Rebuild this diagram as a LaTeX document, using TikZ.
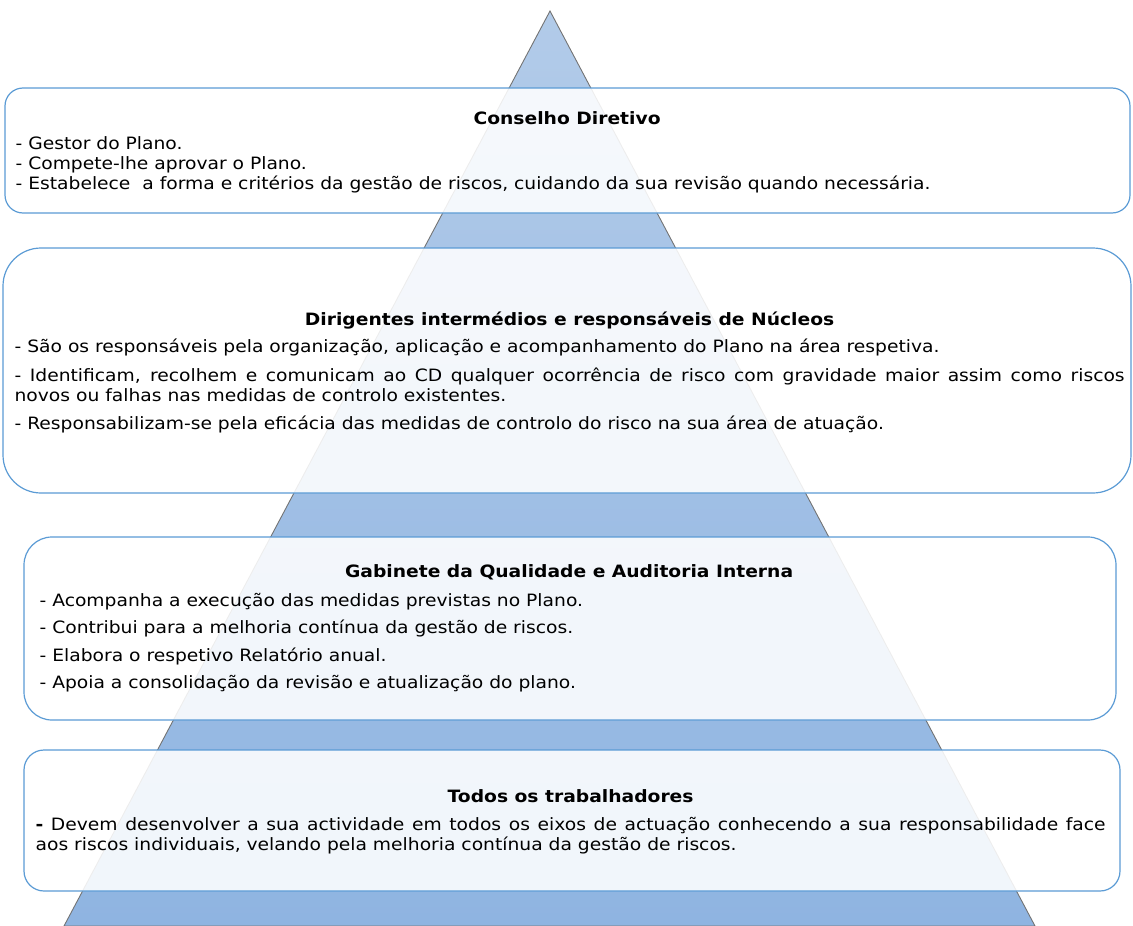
\documentclass[tikz,border=0pt]{standalone}
\usepackage{fontspec}
\setmainfont{DejaVu Sans}[FakeStretch=1.1]
\usepackage{tikz}
\usetikzlibrary{positioning}
\definecolor{lvlblue}{RGB}{91,155,213}
\definecolor{tritop}{RGB}{178,203,233}
\definecolor{tribot}{RGB}{143,180,225}
\setlength{\parindent}{0pt}

\begin{document}
\begin{tikzpicture}[
    x=1pt, y=-1pt,
    lvl/.style={rectangle, rounded corners=#1, draw=lvlblue, line width=1.2pt,
                fill=white, fill opacity=0.88, inner sep=0pt},
    lvl/.default=18pt,
    txt/.style={text width=#1, align=justify, inner sep=0pt,
                font=\fontsize{17}{20}\selectfont},
  ]
  \useasboundingbox (0,0) rectangle (1133,926);

  % piramide
  \shade[top color=tritop, bottom color=tribot, draw=black!55, line width=0.9pt]
    (550,11) -- (1035,926) -- (64,926) -- cycle;

  \node[lvl=18pt, minimum width=1125pt, minimum height=125pt] (cd) at (567.5,150.5) {};
  \node[txt=1103pt, below right=20.5pt and 11pt of cd.north west] (cdtxt)
    {\makebox[\linewidth]{\rule{0pt}{16.5pt}\textbf{Conselho Diretivo}}\\[4.5pt]
     - Gestor do Plano.\\
     - Compete-lhe aprovar o Plano.\\
     - Estabelece\ \ a forma e critérios da gestão de riscos, cuidando da sua revisão quando necessária.};

  \node[lvl=38pt, minimum width=1128pt, minimum height=245pt] (dir) at (567,370.5) {};
  \node[txt=1110pt, below right=61.2pt and 12pt of dir.north west] (dirtxt)
    {\makebox[\linewidth]{\rule{0pt}{16.5pt}\textbf{Dirigentes intermédios e responsáveis de Núcleos}}\\[7pt]
     - São os responsáveis pela organização, aplicação e acompanhamento do Plano na área respetiva.\\[9pt]
     - Identificam, recolhem e comunicam ao CD qualquer ocorrência de risco com gravidade maior assim como riscos\linebreak
     novos ou falhas nas medidas de controlo existentes.\\[8.3pt]
     - Responsabilizam-se pela eficácia das medidas de controlo do risco na sua área de atuação.};

  \node[lvl=28pt, minimum width=1092pt, minimum height=183pt] (gab) at (570,628.5) {};
  \node[txt=1059pt, below right=24.8pt and 16pt of gab.north west] (gabtxt)
    {\makebox[\linewidth]{\rule{0pt}{16.5pt}\textbf{Gabinete da Qualidade e Auditoria Interna}}\\[8.4pt]
     - Acompanha a execução das medidas previstas no Plano.\\[7.5pt]
     - Contribui para a melhoria contínua da gestão de riscos.\\[7.5pt]
     - Elabora o respetivo Relatório anual.\\[7.5pt]
     - Apoia a consolidação da revisão e atualização do plano.};

  \node[lvl=20pt, minimum width=1096pt, minimum height=141pt] (trab) at (572,820.5) {};
  \node[txt=1070pt, below right=36.2pt and 12pt of trab.north west] (trabtxt)
    {\makebox[\linewidth]{\rule{0pt}{16.5pt}\textbf{Todos os trabalhadores}}\\[8.3pt]
     \textbf{-} Devem desenvolver a sua actividade em todos os eixos de actuação conhecendo a sua responsabilidade face\linebreak
     aos riscos individuais, velando pela melhoria contínua da gestão de riscos.};
\end{tikzpicture}
\end{document}
